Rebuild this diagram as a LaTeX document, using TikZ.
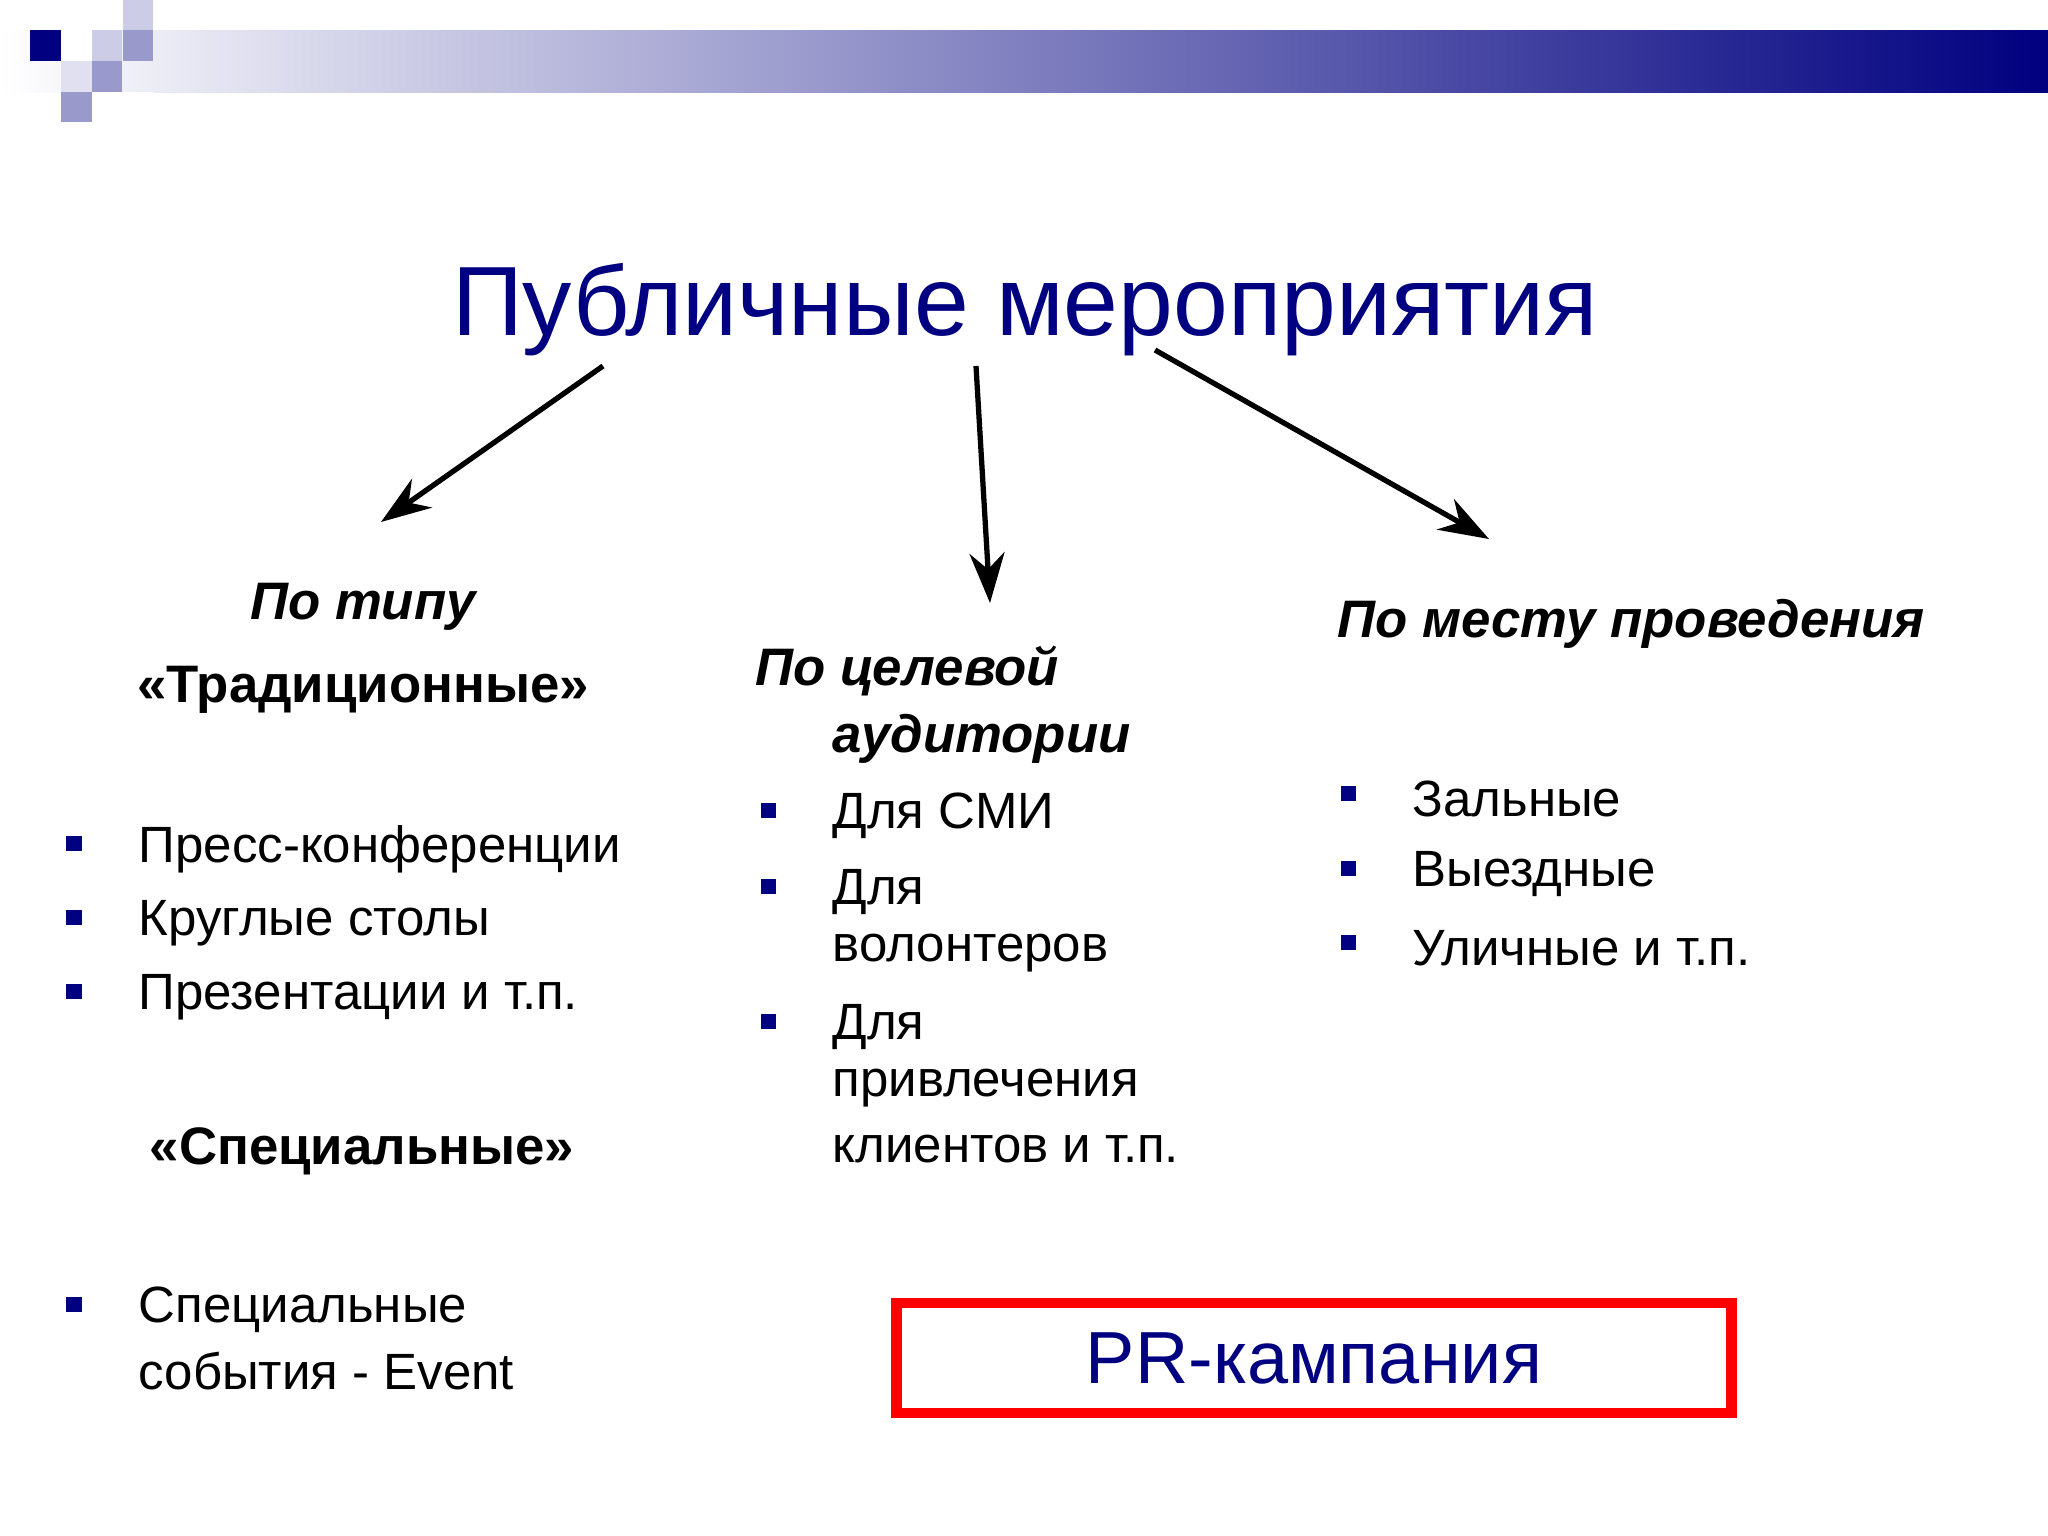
\documentclass[tikz,border=0pt]{standalone}
\usepackage{fontspec}
\setmainfont{Liberation Sans}
\usetikzlibrary{arrows.meta}
\definecolor{navy}{RGB}{0,0,128}
\definecolor{lightsq}{RGB}{204,204,230}
\definecolor{medsq}{RGB}{153,153,204}
\begin{document}
\begin{tikzpicture}[x=0.01cm,y=-0.01cm,
  body/.style={font=\fontsize{14.5}{17}\selectfont,anchor=west,inner sep=0},
  head/.style={font=\fontsize{15}{18}\selectfont\bfseries\itshape,inner sep=0},
  bul/.style={fill=navy,minimum size=0.15cm,inner sep=0},
  arr/.style={line width=1.5pt,-{Stealth[length=0.5cm,width=0.35cm]}}]
\useasboundingbox (0,0) rectangle (2048,1536);
\fill[white] (0,0) rectangle (2048,1536);
\shade[left color=white,right color=navy] (0,30) rectangle (2048,92);
\fill[white] (0,0) rectangle (123,30);
\fill[lightsq] (123,0) rectangle (153,30);
\fill[navy] (30,30) rectangle (61,61);
\fill[white] (61,30) rectangle (92,61);
\fill[lightsq] (92,30) rectangle (122,61);
\fill[medsq] (123,30) rectangle (153,61);
\fill[lightsq!60] (61,61) rectangle (92,92);
\fill[medsq] (92,61) rectangle (122,92);
\fill[medsq] (61,92) rectangle (92,122);
\fill[white] (92,92) rectangle (153,122);
\node[font=\fontsize{28}{32}\selectfont,text=navy] (title) at (1025,310) {Публичные мероприятия};
\coordinate (a1s) at (603,366); \coordinate (a1e) at (381,522);
\coordinate (a2s) at (976,366); \coordinate (a2e) at (990,603);
\coordinate (a3s) at (1155,350); \coordinate (a3e) at (1489,539);
\draw[arr] (a1s) -- (a1e);
\draw[arr] (a2s) -- (a2e);
\draw[arr] (a3s) -- (a3e);
% left
\node[head] (h1) at (363,607) {По типу};
\node[font=\fontsize{15}{18}\selectfont\bfseries] (trad) at (363,690) {«Традиционные»};
\node[bul] (b1) at (74,843) {}; \node[body] (t1) at (138,849) {Пресс-конференции};
\node[bul] (b2) at (74,917) {}; \node[body] (t2) at (138,923) {Круглые столы};
\node[bul] (b3) at (74,991) {}; \node[body] (t3) at (138,997) {Презентации и т.п.};
\node[font=\fontsize{15}{18}\selectfont\bfseries] (spec) at (362,1151) {«Специальные»};
\node[bul] (b4) at (74,1304) {}; \node[body] (t4) at (138,1310) {Специальные};
\node[body] (t4b) at (138,1371) {события - Event};
% middle
\node[head,anchor=west] (h2) at (755,671) {По целевой};
\node[head,anchor=west] (h2b) at (832,739) {аудитории};
\node[bul] (m1) at (768,810) {}; \node[body] (u1) at (832,816) {Для СМИ};
\node[bul] (m2) at (768,886) {}; \node[body] (u2) at (832,892) {Для};
\node[body] (u2b) at (832,953) {волонтеров};
\node[bul] (m3) at (768,1021) {}; \node[body] (u3) at (832,1027) {Для};
\node[body] (u3b) at (832,1088) {привлечения};
\node[body] (u3c) at (832,1149) {клиентов и т.п.};
% right
\node[head,anchor=west] (h3) at (1337,624) {По месту проведения};
\node[bul] (r1) at (1348,793) {}; \node[body] (v1) at (1412,799) {Зальные};
\node[bul] (r2) at (1348,868) {}; \node[body] (v2) at (1412,874) {Выездные};
\node[bul] (r3) at (1348,942) {}; \node[body] (v3) at (1412,948) {Уличные и т.п.};
% PR box
\node[draw=red,line width=3pt,minimum width=8.34cm,minimum height=1.1cm,
  font=\fontsize{21}{24}\selectfont,text=navy] (pr) at (1314,1358) {PR-кампания};
\end{tikzpicture}
\end{document}
